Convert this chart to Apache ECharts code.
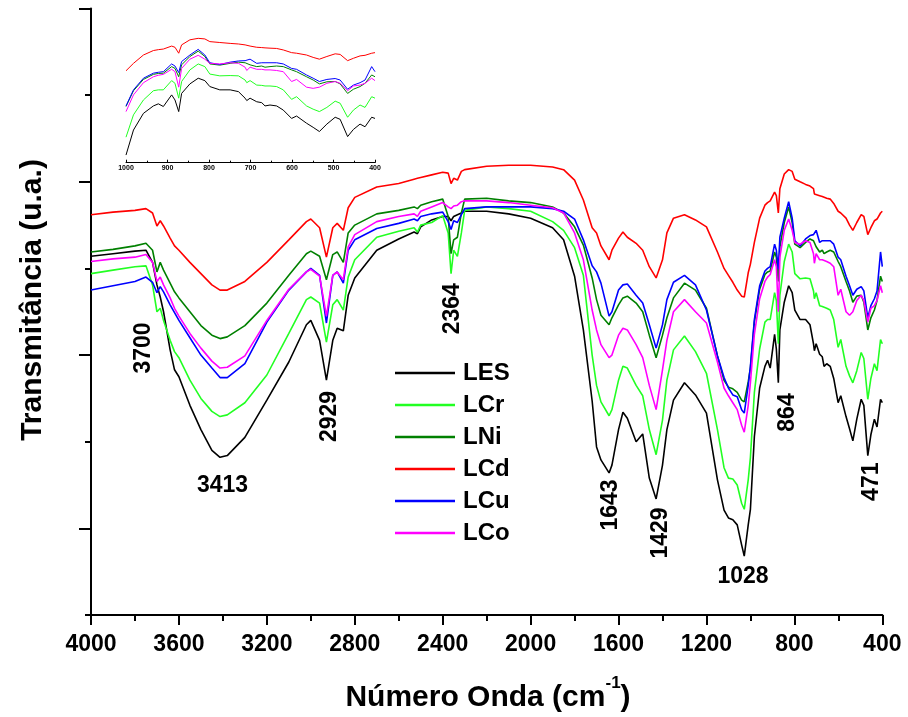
<!DOCTYPE html>
<html><head><meta charset="utf-8">
<script src="https://cdn.jsdelivr.net/npm/echarts@6/dist/echarts.min.js"></script>
<style>html,body{margin:0;padding:0;background:#fff}#c{width:908px;height:717px}</style>
</head><body><div id="c"></div>
<script>
const wavenumber = [4000,3900,3800,3750,3720,3700,3685,3670,3640,3620,
3600,3550,3500,3450,3413,3380,3300,3200,3100,3020,
3000,2960,2929,2900,2880,2852,2830,2800,2700,2600,
2530,2515,2500,2450,2400,2375,2362,2350,2333,2315,
2300,2200,2100,2000,1900,1850,1800,1760,1720,1700,
1680,1643,1630,1600,1580,1560,1520,1490,1460,1429,
1400,1380,1350,1300,1250,1200,1150,1120,1100,1080,
1060,1040,1028,1010,1000,
982,958,934,922,910,890,882,873,866,846,
826,810,798,774,749,729,713,709,701,685,
673,665,653,637,621,601,589,565,549,534,
516,496,484,466,452,436,424,408,400];

const LES = [4.14,4.17,4.20,4.21,4.07,3.81,3.67,3.50,3.06,2.83,
2.75,2.42,2.14,1.90,1.82,1.84,2.05,2.48,2.92,3.35,
3.40,3.17,2.71,3.17,3.31,3.28,3.69,3.89,4.21,4.34,
4.42,4.40,4.48,4.56,4.60,4.60,4.55,4.60,4.62,4.64,
4.66,4.66,4.63,4.58,4.47,4.33,3.91,3.29,2.47,1.94,
1.79,1.64,1.73,2.14,2.34,2.27,2.00,2.09,1.58,1.34,
1.73,2.14,2.48,2.68,2.54,2.33,1.56,1.21,1.12,1.10,
1.04,0.81,0.68,1.04,1.22,
2.06,2.62,2.87,2.94,2.85,3.24,3.07,2.68,3.29,3.61,
3.80,3.72,3.52,3.41,3.41,3.35,3.13,3.05,3.13,3.01,
2.98,2.87,2.90,2.87,2.73,2.45,2.53,2.29,2.15,2.01,
2.26,2.49,2.42,1.84,2.08,2.26,2.17,2.49,2.45];

const LCr = [3.94,3.98,4.02,4.03,3.81,3.50,3.54,3.40,3.17,3.04,
2.97,2.71,2.50,2.35,2.29,2.31,2.45,2.77,3.25,3.64,
3.67,3.60,3.15,3.58,3.64,3.52,3.90,4.10,4.36,4.43,
4.47,4.42,4.50,4.53,4.61,4.41,3.94,4.21,4.14,4.41,
4.67,4.71,4.69,4.66,4.54,4.44,4.24,3.92,3.00,2.65,
2.46,2.30,2.37,2.71,2.87,2.85,2.65,2.53,2.14,1.85,
2.25,2.71,3.06,3.22,3.04,2.79,2.14,1.70,1.58,1.57,
1.50,1.29,1.22,1.56,1.82,
2.57,3.07,3.38,3.41,3.41,3.72,3.63,3.13,3.69,4.08,
4.28,4.19,3.94,3.88,3.89,3.88,3.74,3.65,3.72,3.57,
3.56,3.54,3.54,3.52,3.41,3.09,3.18,2.87,2.76,2.68,
2.82,3.03,2.96,2.49,2.73,2.90,2.82,3.18,3.13];

const LNi = [4.19,4.22,4.26,4.29,4.21,3.96,4.07,3.98,3.83,3.73,
3.66,3.50,3.34,3.23,3.19,3.21,3.34,3.60,3.92,4.17,
4.20,4.14,3.87,4.16,4.19,4.07,4.41,4.50,4.63,4.67,
4.71,4.69,4.73,4.77,4.80,4.60,4.17,4.33,4.36,4.64,
4.80,4.81,4.78,4.76,4.71,4.64,4.48,4.27,3.89,3.64,
3.46,3.35,3.43,3.58,3.66,3.68,3.60,3.50,3.23,2.97,
3.23,3.43,3.66,3.83,3.75,3.54,2.99,2.71,2.63,2.61,
2.57,2.48,2.46,2.69,2.85,
3.38,3.76,3.93,3.96,3.97,4.19,4.13,3.85,4.25,4.53,
4.71,4.53,4.28,4.24,4.30,4.34,4.32,4.30,4.25,4.19,
4.21,4.17,4.19,4.21,4.19,4.08,4.02,3.85,3.74,3.61,
3.68,3.69,3.61,3.29,3.43,3.52,3.63,3.91,3.85];

const LCd = [4.62,4.65,4.67,4.69,4.64,4.49,4.55,4.49,4.35,4.26,
4.21,4.07,3.94,3.81,3.75,3.75,3.85,4.07,4.33,4.54,
4.57,4.47,4.13,4.47,4.52,4.44,4.70,4.82,4.94,4.98,
5.03,5.04,5.05,5.08,5.11,5.10,4.98,5.04,5.02,5.12,
5.14,5.18,5.19,5.19,5.17,5.14,5.02,4.79,4.47,4.41,
4.26,4.10,4.21,4.35,4.42,4.36,4.29,4.21,4.02,3.89,
4.10,4.41,4.58,4.62,4.56,4.48,4.19,4.00,3.92,3.84,
3.75,3.68,3.67,3.95,4.05,
4.30,4.58,4.73,4.76,4.78,4.88,4.84,4.64,4.92,5.09,
5.14,5.12,5.03,5.00,4.97,4.95,4.92,4.86,4.88,4.84,
4.83,4.82,4.81,4.80,4.75,4.66,4.64,4.58,4.50,4.44,
4.53,4.62,4.60,4.39,4.47,4.55,4.57,4.64,4.66];

const LCu = [3.75,3.80,3.85,3.90,3.84,3.72,3.79,3.73,3.58,3.49,
3.40,3.20,3.00,2.85,2.74,2.74,2.90,3.38,3.75,3.96,
4.00,3.92,3.37,3.92,3.96,3.83,4.21,4.33,4.46,4.52,
4.57,4.55,4.60,4.63,4.65,4.54,4.45,4.55,4.53,4.62,
4.69,4.71,4.71,4.71,4.69,4.66,4.57,4.33,4.03,3.96,
3.83,3.45,3.50,3.75,3.81,3.82,3.69,3.60,3.35,3.08,
3.35,3.64,3.84,3.92,3.81,3.52,2.99,2.74,2.62,2.54,
2.52,2.37,2.33,2.65,2.87,
3.41,3.80,3.97,4.00,4.02,4.28,4.21,3.99,4.36,4.58,
4.77,4.58,4.32,4.26,4.34,4.38,4.39,4.41,4.44,4.30,
4.32,4.32,4.32,4.32,4.28,4.13,4.10,3.91,3.80,3.69,
3.76,3.79,3.74,3.43,3.57,3.65,3.74,4.19,4.02];

const LCo = [4.08,4.11,4.13,4.16,4.07,3.85,3.90,3.81,3.66,3.54,
3.45,3.25,3.08,2.93,2.85,2.86,2.99,3.40,3.76,3.96,
3.99,3.91,3.45,3.92,3.96,3.87,4.25,4.39,4.54,4.60,
4.63,4.60,4.66,4.71,4.76,4.71,4.69,4.72,4.73,4.77,
4.78,4.78,4.76,4.73,4.70,4.64,4.41,4.10,3.52,3.29,
3.12,2.97,3.00,3.23,3.31,3.29,3.12,2.97,2.65,2.37,
2.83,3.17,3.50,3.64,3.50,3.37,2.92,2.62,2.53,2.45,
2.37,2.19,2.11,2.42,2.68,
3.24,3.65,3.85,3.90,3.93,4.10,4.02,3.50,4.13,4.44,
4.57,4.44,4.30,4.28,4.32,4.30,4.17,4.06,4.17,4.10,
4.10,4.08,4.08,4.06,4.02,3.69,3.76,3.50,3.46,3.50,
3.63,3.69,3.63,3.38,3.54,3.57,3.63,3.80,3.72];

const seriesNames = ['LES','LCr','LNi','LCd','LCu','LCo'];
const seriesValues = [LES, LCr, LNi, LCd, LCu, LCo];
const seriesColors = ['#000000','#22ff22','#008000','#ff0000','#0000ff','#ff00ff'];

const peakLabels = ['3700','3413','2929','2364','1643','1429','1028','864','471'];

const FONT = '"Liberation Sans", Arial, Helvetica, sans-serif';
const chart = echarts.init(document.getElementById('c'));
const plain = v => String(v);

const series = [];
seriesNames.forEach((n, k) => {
  const vals = seriesValues[k];
  const pts = wavenumber.map((w, i) => [w, vals[i]]);
  series.push({name: n, type: 'line', xAxisIndex: 0, yAxisIndex: 0, data: pts,
    symbol: 'none', smooth: false, lineStyle: {color: seriesColors[k], width: 1.6},
    itemStyle: {color: seriesColors[k]}, z: 3, silent: true});
});
seriesNames.forEach((n, k) => {
  const vals = seriesValues[k];
  const pts = wavenumber.map((w, i) => [w, vals[i]]).filter(p => p[0] <= 1000);
  series.push({name: n, type: 'line', xAxisIndex: 1, yAxisIndex: 2, data: pts,
    symbol: 'none', lineStyle: {color: seriesColors[k], width: 1},
    itemStyle: {color: seriesColors[k]}, z: 3, silent: true});
});

const txt = (s, x, y, rot) => ({type: 'text', x: x, y: y, rotation: rot ? Math.PI / 2 : 0,
  style: {text: s, font: 'bold 23px ' + FONT, fill: '#000', align: 'center', verticalAlign: 'middle'}});

chart.setOption({
  animation: false,
  backgroundColor: '#fff',
  grid: [
    {left: 91, top: 8.5, right: 25.7, bottom: 102, containLabel: false},
    {left: 126, top: 30, width: 249, height: 132.7, containLabel: false}
  ],
  xAxis: [
    {type: 'value', gridIndex: 0, min: 400, max: 4000, interval: 400, inverse: true,
      axisLine: {onZero: false, lineStyle: {color: '#000', width: 2}},
      axisTick: {show: true, length: 10, lineStyle: {color: '#000', width: 2}},
      minorTick: {show: true, splitNumber: 2, length: 6, lineStyle: {color: '#000', width: 2}},
      axisLabel: {fontSize: 23, fontWeight: 'bold', color: '#000', fontFamily: FONT, margin: 18, formatter: plain},
      splitLine: {show: false}, minorSplitLine: {show: false}},
    {type: 'value', gridIndex: 1, min: 400, max: 1000, interval: 100, inverse: true,
      axisLine: {onZero: false, lineStyle: {color: '#000', width: 1}},
      axisTick: {show: true, inside: true, length: 3, lineStyle: {color: '#000', width: 1}},
      minorTick: {show: true, splitNumber: 2, length: 2, lineStyle: {color: '#000', width: 1}},
      axisLabel: {fontSize: 7, fontWeight: 'bold', color: '#000', fontFamily: FONT, margin: 2, formatter: plain},
      splitLine: {show: false}}
  ],
  yAxis: [
    {type: 'value', gridIndex: 0, min: 0, max: 7, position: 'left',
      axisLine: {show: true, onZero: false, lineStyle: {color: '#000', width: 2}},
      axisTick: {show: true, length: 12, customValues: [1, 3, 5, 7], lineStyle: {color: '#000', width: 2}},
      axisLabel: {show: false}, splitLine: {show: false}},
    {type: 'value', gridIndex: 0, min: 0, max: 7, position: 'left', offset: 0,
      axisLine: {show: false},
      axisTick: {show: true, length: 6, customValues: [0, 2, 4, 6], lineStyle: {color: '#000', width: 2}},
      axisLabel: {show: false}, splitLine: {show: false}},
    {type: 'value', gridIndex: 1, min: 0.963, max: 5.42, show: false, splitLine: {show: false}}
  ],
  legend: {
    data: seriesNames, orient: 'vertical', left: 395, top: 361, padding: 0,
    icon: 'rect', itemWidth: 60, itemHeight: 2.5, itemGap: 8, selectedMode: false,
    textStyle: {fontSize: 24, fontWeight: 'bold', color: '#000', fontFamily: FONT, padding: [0, 0, 0, 3]}
  },
  series: series,
  graphic: [
    txt(peakLabels[0], 143.5, 348, true),
    txt(peakLabels[1], 222.5, 486, false),
    txt(peakLabels[2], 330, 416.5, true),
    txt(peakLabels[3], 452.5, 308.7, true),
    txt(peakLabels[4], 611, 505, true),
    txt(peakLabels[5], 661, 533, true),
    txt(peakLabels[6], 743, 576.5, false),
    txt(peakLabels[7], 788, 412.5, true),
    txt(peakLabels[8], 872, 481.7, true),
    {type: 'text', x: 33, y: 300, rotation: Math.PI / 2,
      style: {text: 'Transmitância (u.a.)', font: 'bold 30px ' + FONT, fill: '#000', align: 'center', verticalAlign: 'middle'}},
    {type: 'text', x: 488, y: 694,
      style: {text: '{b|Número Onda (cm}{s|-1}{b|)}', align: 'center', verticalAlign: 'middle',
        rich: {
          b: {font: 'bold 30px ' + FONT, fill: '#000', color: '#000', lineHeight: 38, verticalAlign: 'bottom'},
          s: {font: 'bold 17px ' + FONT, fill: '#000', color: '#000', lineHeight: 38, verticalAlign: 'top'}
        }}}
  ]
});
</script>
</body></html>
